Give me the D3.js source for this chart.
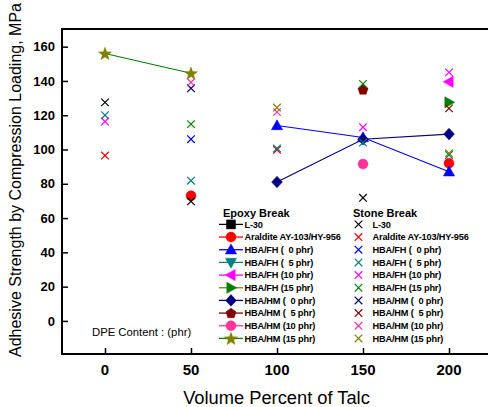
<!DOCTYPE html>
<html>
<head>
<meta charset="utf-8">
<script src="https://cdn.jsdelivr.net/npm/d3@7"></script>
<style>
  html, body { margin: 0; padding: 0; background: #fff; }
  svg { display: block; }
  text { font-family: "Liberation Sans", Arial, sans-serif; }
  .legend-label { white-space: pre; }
</style>
</head>
<body>
<svg id="chart" width="488" height="407"></svg>
<script>
// Talc loading (vol %) on the x axis
const talcLevels = [0, 50, 100, 150, 200];
const xTicks = [0, 50, 100, 150, 200];
const yTicks = [0, 20, 40, 60, 80, 100, 120, 140, 160];

const seriesNames = [
  "L-30", "Araldite AY-103/HY-956",
  "HBA/FH (  0 phr)", "HBA/FH (  5 phr)", "HBA/FH (10 phr)", "HBA/FH (15 phr)",
  "HBA/HM (  0 phr)", "HBA/HM (  5 phr)", "HBA/HM (10 phr)", "HBA/HM (15 phr)"
];
const markerColors = ["#000000", "#ff0000", "#0000ff", "#008080", "#ff00ff",
                      "#008000", "#000080", "#800000", "#ff3399", "#808000"];
const lineColors   = ["#000000", "#ff0000", "#0000ff", "#008080", "#ff00ff",
                      "#808000", "#000080", "#800000", "#ff3399", "#008000"];
const markerShapes = ["square", "circle", "triUp", "triDown", "triLeft",
                      "triRight", "diamond", "pentagon", "circle", "star"];

// Adhesive strength (MPa), epoxy-break specimens
const epoxyL30      = [null, null, null, null, null];
const epoxyAraldite = [null, 73, null, null, 92];
const epoxyFH0      = [null, null, 114, 107, 87];
const epoxyFH5      = [null, null, null, null, null];
const epoxyFH10     = [null, null, null, null, 139.5];
const epoxyFH15     = [null, null, null, null, 127.5];
const epoxyHM0      = [null, null, 81, 106, 109];
const epoxyHM5      = [null, null, null, 135, null];
const epoxyHM10     = [null, null, null, 91.5, null];
const epoxyHM15     = [156, 144.5, null, null, null];

// Adhesive strength (MPa), stone-break specimens
const stoneL30      = [127.5, 69.8, null, 71.8, null];
const stoneAraldite = [96.5, null, 99.8, null, null];
const stoneFH0      = [null, 106, null, null, null];
const stoneFH5      = [120, 81.8, 100.6, 104, 96.8];
const stoneFH10     = [116.3, null, null, 113, 145];
const stoneFH15     = [null, 114.8, null, 138.3, null];
const stoneHM0      = [null, 135.7, null, null, null];
const stoneHM5      = [null, null, null, null, 124];
const stoneHM10     = [null, 139.2, 121.8, null, null];
const stoneHM15     = [null, null, 124.5, null, 97.8];

const epoxySeries = [epoxyL30, epoxyAraldite, epoxyFH0, epoxyFH5, epoxyFH10,
                     epoxyFH15, epoxyHM0, epoxyHM5, epoxyHM10, epoxyHM15];
const stoneSeries = [stoneL30, stoneAraldite, stoneFH0, stoneFH5, stoneFH10,
                     stoneFH15, stoneHM0, stoneHM5, stoneHM10, stoneHM15];

const svg = d3.select("#chart");
const plotLeft = 62, plotTop = 29, plotRight = 492, plotBottom = 354;

const x = d3.scaleLinear().domain([-25, 225]).range([plotLeft, plotRight]);
const y = d3.scaleLinear().domain([-19.3, 170.3]).range([plotBottom, plotTop]);

// marker path generators
function shapePath(kind) {
  const p = d3.path();
  const poly = pts => { p.moveTo(pts[0][0], pts[0][1]); pts.slice(1).forEach(q => p.lineTo(q[0], q[1])); p.closePath(); };
  switch (kind) {
    case "square": poly([[-4.5,-4.5],[4.5,-4.5],[4.5,4.5],[-4.5,4.5]]); break;
    case "circle": p.arc(0, 0, 5, 0, 2 * Math.PI); break;
    case "triUp": poly([[0,-5.8],[5.6,4.2],[-5.6,4.2]]); break;
    case "triDown": poly([[0,5.8],[5.6,-4.2],[-5.6,-4.2]]); break;
    case "triLeft": poly([[-5.8,0],[4.2,-5.6],[4.2,5.6]]); break;
    case "triRight": poly([[5.8,0],[-4.2,-5.6],[-4.2,5.6]]); break;
    case "diamond": poly([[0,-5.8],[5.4,0],[0,5.8],[-5.4,0]]); break;
    case "pentagon": {
      const pts = d3.range(5).map(i => {
        const a = -Math.PI / 2 + i * 2 * Math.PI / 5;
        return [5.3 * Math.cos(a), 5.3 * Math.sin(a) + 0.4];
      });
      poly(pts); break;
    }
    case "star": {
      const pts = d3.range(10).map(i => {
        const a = -Math.PI / 2 + i * Math.PI / 5;
        const r = i % 2 === 0 ? 6.8 : 2.8;
        return [r * Math.cos(a), r * Math.sin(a) + 0.6];
      });
      poly(pts); break;
    }
  }
  return p.toString();
}
const crossPath = "M-3.8,-3.8L3.8,3.8M-3.8,3.8L3.8,-3.8";

// frame (right side runs past the page edge)
svg.append("path")
  .attr("d", `M${plotRight},${plotTop}H${plotLeft}V${plotBottom}H${plotRight}`)
  .attr("stroke", "#000").attr("stroke-width", 2).attr("fill", "none");

// axes with inward ticks
const yAxis = svg.append("g").attr("transform", `translate(${plotLeft},0)`)
  .call(d3.axisRight(y).tickValues(yTicks).tickSize(6).tickFormat(""));
yAxis.select(".domain").remove();
yAxis.selectAll(".tick line").attr("stroke-width", 1.5);

const xAxis = svg.append("g").attr("transform", `translate(0,${plotBottom})`)
  .call(d3.axisTop(x).tickValues(xTicks).tickSize(6).tickFormat(""));
xAxis.select(".domain").remove();
xAxis.selectAll(".tick line").attr("stroke-width", 1.5);

// tick labels
svg.append("g").selectAll("text").data(yTicks).join("text")
  .attr("x", 55).attr("y", d => y(d)).attr("dy", "0.36em")
  .attr("text-anchor", "end").attr("font-size", 13).attr("font-weight", "bold")
  .text(d => d);
svg.append("g").selectAll("text").data(xTicks).join("text")
  .attr("x", d => x(d)).attr("y", 374.5)
  .attr("text-anchor", "middle").attr("font-size", 15).attr("font-weight", "bold")
  .text(d => d);

// axis titles
svg.append("text").attr("x", 276.5).attr("y", 404)
  .attr("text-anchor", "middle").attr("font-size", 18.3)
  .text("Volume Percent of Talc");
svg.append("text").attr("transform", "translate(21,357) rotate(-90)")
  .attr("text-anchor", "start").attr("font-size", 16)
  .text("Adhesive Strength by Compression Loading, MPa");

svg.append("text").attr("x", 92).attr("y", 336).attr("font-size", 11.3)
  .text("DPE Content : (phr)");

// epoxy-break series: connecting lines then markers
const line = d3.line().defined(d => d.v != null).x(d => x(d.t)).y(d => y(d.v));
const plot = svg.append("g");
epoxySeries.forEach((vals, i) => {
  const pts = talcLevels.map((t, j) => ({ t, v: vals[j] }));
  plot.append("path").datum(pts).attr("d", line)
    .attr("fill", "none").attr("stroke", lineColors[i]).attr("stroke-width", 1.1);
});
epoxySeries.forEach((vals, i) => {
  const pts = talcLevels.map((t, j) => ({ t, v: vals[j] })).filter(d => d.v != null);
  plot.selectAll(null).data(pts).join("path")
    .attr("transform", d => `translate(${x(d.t)},${y(d.v)})`)
    .attr("d", shapePath(markerShapes[i]))
    .attr("fill", markerColors[i]).attr("stroke", markerColors[i]).attr("stroke-width", 0.5);
});
// stone-break series: crosses
stoneSeries.forEach((vals, i) => {
  const pts = talcLevels.map((t, j) => ({ t, v: vals[j] })).filter(d => d.v != null);
  plot.selectAll(null).data(pts).join("path")
    .attr("transform", d => `translate(${x(d.t)},${y(d.v)})`)
    .attr("d", crossPath).attr("fill", "none")
    .attr("stroke", markerColors[i]).attr("stroke-width", 1.2);
});

// legend
const rowY = i => 224.4 + i * 12.67;
const leg = svg.append("g");
leg.append("text").attr("x", 223).attr("y", 217).attr("font-size", 11).attr("font-weight", "bold").text("Epoxy Break");
leg.append("text").attr("x", 353).attr("y", 217).attr("font-size", 11).attr("font-weight", "bold").text("Stone Break");
seriesNames.forEach((name, i) => {
  const yy = rowY(i);
  leg.append("line").attr("x1", 219).attr("x2", 243).attr("y1", yy).attr("y2", yy)
    .attr("stroke", lineColors[i]).attr("stroke-width", 1.3);
  leg.append("path").attr("transform", `translate(231,${yy})`)
    .attr("d", shapePath(markerShapes[i]))
    .attr("fill", markerColors[i]).attr("stroke", markerColors[i]).attr("stroke-width", 0.5);
  leg.append("text").attr("class", "legend-label").attr("x", 244.5).attr("y", yy).attr("dy", "0.36em")
    .attr("font-size", 9.2).attr("font-weight", "bold").attr("letter-spacing", -0.15).text(name);
  leg.append("path").attr("transform", `translate(358.5,${yy})`)
    .attr("d", crossPath).attr("fill", "none")
    .attr("stroke", markerColors[i]).attr("stroke-width", 1.2);
  leg.append("text").attr("class", "legend-label").attr("x", 372.5).attr("y", yy).attr("dy", "0.36em")
    .attr("font-size", 9.2).attr("font-weight", "bold").attr("letter-spacing", -0.15).text(name);
});
</script>
</body>
</html>
